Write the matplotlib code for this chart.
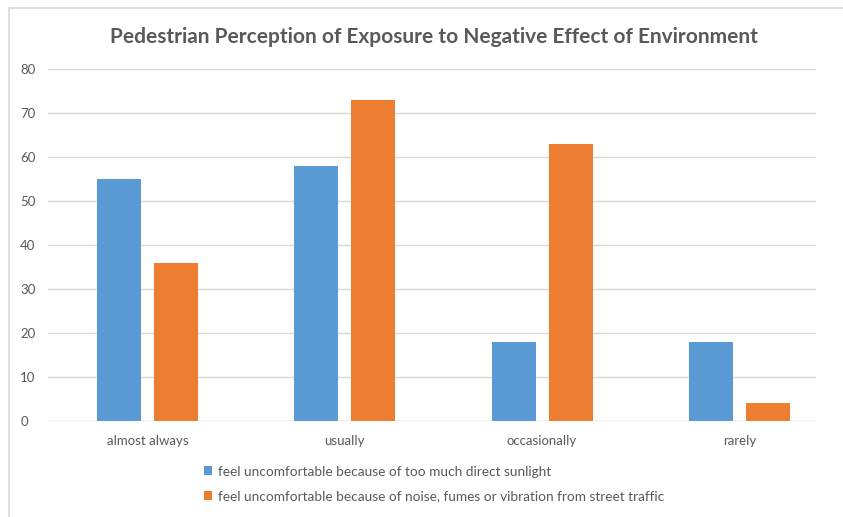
import matplotlib.pyplot as plt
import numpy as np
from matplotlib.patches import Rectangle

categories = ["almost always", "usually", "occasionally", "rarely"]
sunlight = [55, 58, 18, 18]
traffic = [36, 73, 63, 4]
series_names = [
    "feel uncomfortable because of too much direct sunlight",
    "feel uncomfortable because of noise, fumes or vibration from street traffic",
]
yticks = [0, 10, 20, 30, 40, 50, 60, 70, 80]

blue = "#5B9BD5"
orange = "#ED7D31"
txt = "#595959"

W, H = 843, 517
fig = plt.figure(figsize=(W / 100, H / 100), dpi=100)
plt.rcParams["font.family"] = ["Lato", "DejaVu Sans"]

# light frame around the chart area
fig.patches.append(Rectangle((9 / W, -0.01), 1.0, 1 - 8 / H + 0.01,
                             transform=fig.transFigure, fill=False,
                             edgecolor="#D9D9D9", linewidth=1.2))

ax = fig.add_axes([48 / W, 96 / H, (816 - 48) / W, (421 - 69) / H])
x = np.arange(len(categories))
w = 0.223
off = 0.1445
b1 = ax.bar(x - off, sunlight, w, color=blue, label=series_names[0], zorder=3)
b2 = ax.bar(x + off, traffic, w, color=orange, label=series_names[1], zorder=3)

ax.set_xlim(-0.504, 3.388)
ax.set_ylim(0, 80)
ax.set_yticks(yticks)
ax.yaxis.grid(True, color="#D9D9D9", linewidth=1, zorder=0)
ax.set_xticks(x)
ax.set_xticklabels(categories)
ax.tick_params(axis="both", length=0, colors=txt, labelsize=9.5)
ax.tick_params(axis="x", pad=10)
ax.tick_params(axis="y", pad=20)
for lbl in ax.get_yticklabels():
    lbl.set_horizontalalignment("left")
for s in ax.spines.values():
    s.set_visible(False)
ax.axhline(0, color="#D9D9D9", linewidth=1, zorder=2)

fig.text(434 / W, 1 - 37 / H, "Pedestrian Perception of Exposure to Negative Effect of Environment",
         ha="center", va="center", fontsize=15, fontweight="bold", color=txt)

fig.legend(handles=[b1, b2], loc="center left", bbox_to_anchor=(192 / W, 1 - 484 / H),
           frameon=False, fontsize=9.8, labelcolor=txt, handlelength=0.6,
           handleheight=0.6, handletextpad=0.4, labelspacing=0.95)

fig.savefig("out.png", dpi=100, facecolor="white")
